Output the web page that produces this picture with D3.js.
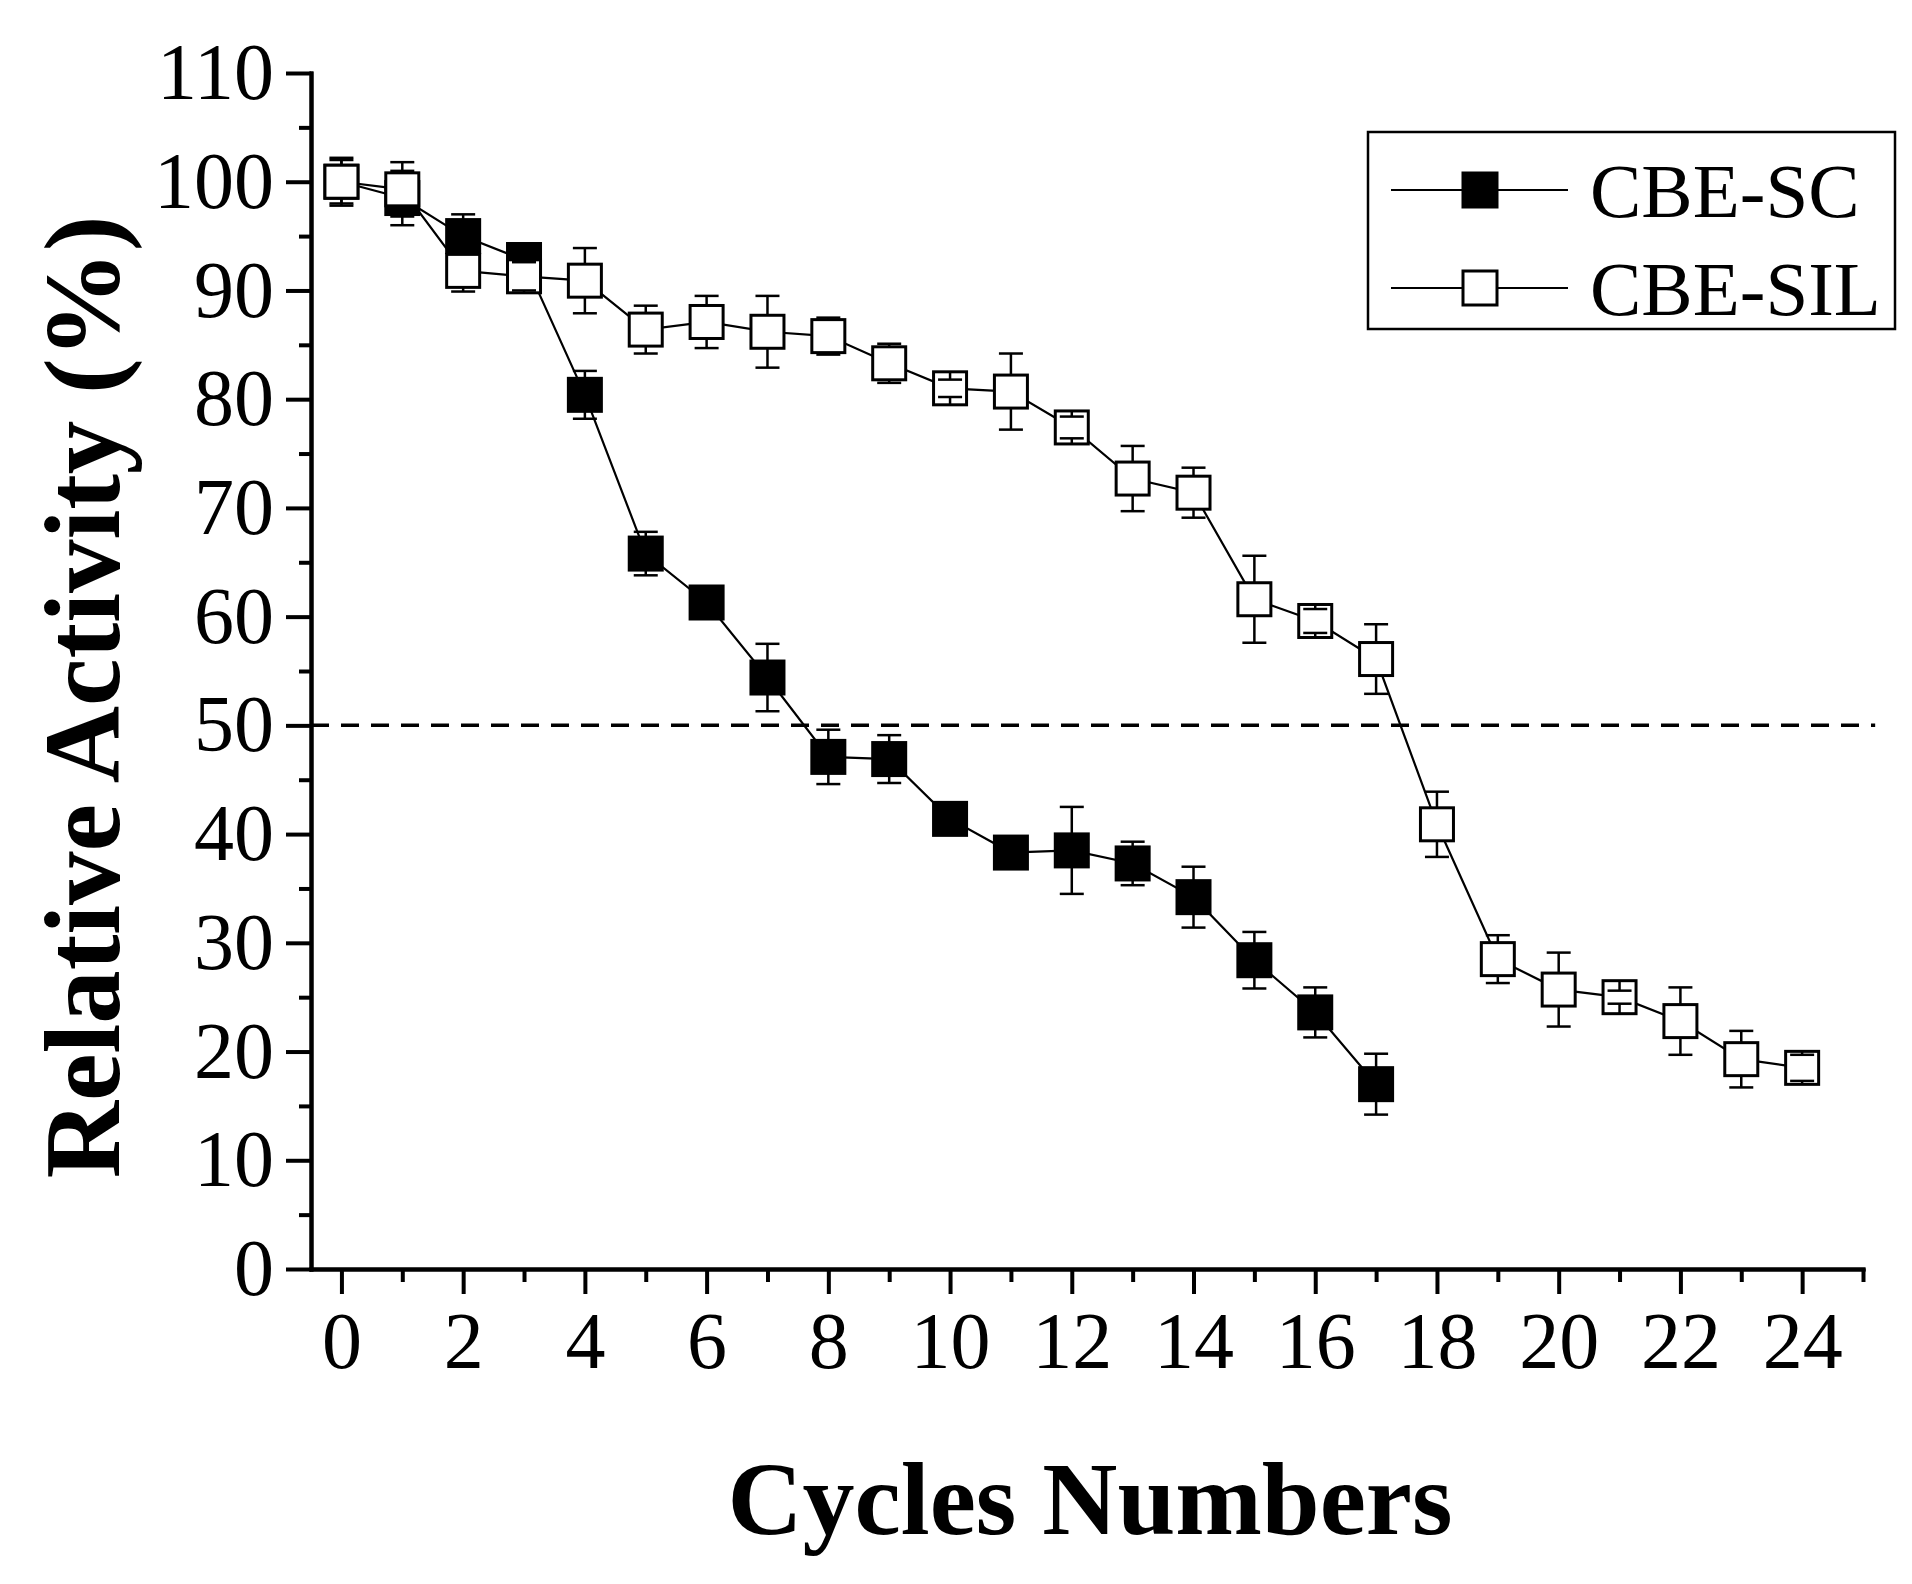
<!DOCTYPE html>
<html>
<head>
<meta charset="utf-8">
<script src="https://cdn.jsdelivr.net/npm/d3@7/dist/d3.min.js"></script>
<style>
  body { margin: 0; background: #fff; }
  svg { display: block; }
</style>
</head>
<body>
<div id="chart"></div>
<script>
// Data
let cycles = d3.range(0, 25);
let scValues = [100, 98.5, 95.0, 92.8, 80.4, 65.8, 61.3, 54.4, 47.1, 46.9, 41.4, 38.3, 38.5, 37.3, 34.2, 28.4, 23.6, 17.0];
let scErrors = [2.0, 2.5, 2.0, 1.0, 2.2, 2.0, 0.5, 3.1, 2.5, 2.2, 0.8, 0.8, 4.0, 2.0, 2.8, 2.6, 2.3, 2.8];
let silValues = [100, 99.3, 91.8, 91.3, 90.9, 86.4, 87.1, 86.2, 85.8, 83.3, 81.0, 80.7, 77.4, 72.7, 71.4, 61.6, 59.6, 56.1, 40.9, 28.5, 25.7, 25.0, 22.8, 19.3, 18.5];
let silErrors = [2.2, 2.5, 1.9, 1.3, 3.0, 2.2, 2.4, 3.3, 1.7, 1.8, 0.8, 3.5, 1.0, 3.0, 2.3, 4.0, 1.1, 3.2, 3.0, 2.2, 3.4, 0.6, 3.1, 2.6, 1.2];
let seriesNames = ["CBE-SC", "CBE-SIL"];
let xTicks = d3.range(0, 25, 2);
let yTicks = d3.range(0, 111, 10);
let halfLine = 50;

let w = 1912;
let h = 1584;
let plotLeft = 311, plotTop = 73, plotRight = 1863, plotBottom = 1269;
let box = 33;
let font = "'Liberation Serif', 'Times New Roman', serif";

let xScale = d3.scaleLinear().domain([-0.5, 25]).range([plotLeft, plotRight]);
let yScale = d3.scaleLinear().domain([0, 110]).range([plotBottom, plotTop]);

let svg = d3.select("#chart").append("svg").attr("width", w).attr("height", h);

// axes
let yAxis = d3.axisLeft(yScale).tickValues(yTicks).tickSize(25).tickSizeOuter(0).tickPadding(12);
let yMinor = d3.axisLeft(yScale).tickValues(d3.range(5, 110, 10)).tickSize(12).tickSizeOuter(0).tickFormat("");
let xAxis = d3.axisBottom(xScale).tickValues(xTicks).tickSize(25).tickSizeOuter(0).tickPadding(17);
let xMinor = d3.axisBottom(xScale).tickValues(d3.range(1, 26, 2)).tickSize(13).tickSizeOuter(0).tickFormat("");

function styleAxis(g) {
  g.select(".domain").attr("stroke-width", 4).attr("stroke-linecap", "square");
  g.selectAll(".tick line").attr("stroke-width", 4);
  g.selectAll(".tick text").attr("font-family", font).attr("font-size", 80).attr("fill", "#000");
}

svg.append("g").attr("transform", "translate(" + plotLeft + ",0)").call(yMinor).call(styleAxis);
svg.append("g").attr("transform", "translate(" + plotLeft + ",0)").call(yAxis).call(styleAxis);
svg.append("g").attr("transform", "translate(0," + plotBottom + ")").call(xMinor).call(styleAxis);
svg.append("g").attr("transform", "translate(0," + plotBottom + ")").call(xAxis).call(styleAxis);

// 50% reference line
svg.append("line")
  .attr("x1", xScale(-0.5)).attr("x2", xScale(25.2))
  .attr("y1", yScale(halfLine)).attr("y2", yScale(halfLine))
  .attr("stroke", "#000").attr("stroke-width", 3.5).attr("stroke-dasharray", "18,12");

function drawSeries(values, errors, fill) {
  let pts = values.map((v, i) => ({ x: cycles[i], v: v, e: errors[i] }));
  let g = svg.append("g");
  g.append("path")
    .datum(pts)
    .attr("d", d3.line().x((d) => xScale(d.x)).y((d) => yScale(d.v)))
    .attr("fill", "none").attr("stroke", "#000").attr("stroke-width", 2.2);
  g.selectAll("rect")
    .data(pts)
    .enter()
    .append("rect")
    .attr("x", (d) => xScale(d.x) - box / 2)
    .attr("y", (d) => yScale(d.v) - box / 2)
    .attr("width", box).attr("height", box)
    .attr("fill", fill).attr("stroke", "#000").attr("stroke-width", 3);
  // error bars from symbol edge to cap
  let eb = g.selectAll(".err").data(pts).enter().append("g").attr("class", "err");
  eb.append("line")
    .attr("x1", (d) => xScale(d.x)).attr("x2", (d) => xScale(d.x))
    .attr("y1", (d) => yScale(d.v) - box / 2).attr("y2", (d) => yScale(d.v + d.e))
    .attr("stroke", "#000").attr("stroke-width", 2.5);
  eb.append("line")
    .attr("x1", (d) => xScale(d.x)).attr("x2", (d) => xScale(d.x))
    .attr("y1", (d) => yScale(d.v) + box / 2).attr("y2", (d) => yScale(d.v - d.e))
    .attr("stroke", "#000").attr("stroke-width", 2.5);
  [1, -1].forEach((s) => {
    eb.append("line")
      .attr("x1", (d) => xScale(d.x) - 12).attr("x2", (d) => xScale(d.x) + 12)
      .attr("y1", (d) => yScale(d.v + s * d.e)).attr("y2", (d) => yScale(d.v + s * d.e))
      .attr("stroke", "#000").attr("stroke-width", 2.5);
  });
}

drawSeries(scValues, scErrors, "#000");
drawSeries(silValues, silErrors, "#fff");

// axis titles
svg.append("text")
  .text("Cycles Numbers")
  .attr("x", 1090).attr("y", 1534)
  .attr("text-anchor", "middle")
  .attr("font-family", font).attr("font-weight", "bold").attr("font-size", 104);

svg.append("text")
  .text("Relative Activity (%)")
  .attr("transform", "translate(119,697) rotate(-90)")
  .attr("text-anchor", "middle")
  .attr("font-family", font).attr("font-weight", "bold").attr("font-size", 107);

// legend
let legend = svg.append("g");
legend.append("rect")
  .attr("x", 1368).attr("y", 132).attr("width", 527).attr("height", 197)
  .attr("fill", "#fff").attr("stroke", "#000").attr("stroke-width", 2.5);
let legendRows = [190, 288];
let legendFills = ["#000", "#fff"];
seriesNames.forEach((name, i) => {
  let y = legendRows[i];
  legend.append("line").attr("x1", 1391).attr("x2", 1568).attr("y1", y).attr("y2", y)
    .attr("stroke", "#000").attr("stroke-width", 2.2);
  legend.append("rect").attr("x", 1480 - 17).attr("y", y - 17).attr("width", 34).attr("height", 34)
    .attr("fill", legendFills[i]).attr("stroke", "#000").attr("stroke-width", 3);
  legend.append("text").text(name)
    .attr("x", 1590).attr("y", y + 27)
    .attr("font-family", font).attr("font-size", 77);
});
</script>
</body>
</html>
